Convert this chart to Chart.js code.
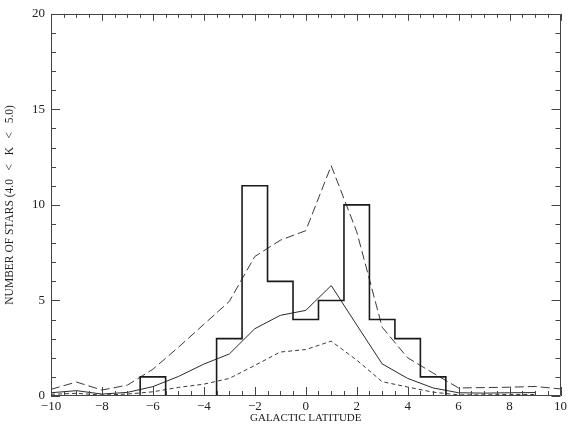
<!DOCTYPE html>
<html>
<head>
<meta charset="utf-8">
<script src="https://cdn.jsdelivr.net/npm/chart.js@4.4.1/dist/chart.umd.min.js"></script>
<style>
  html, body { margin: 0; padding: 0; background: #ffffff; }
  #wrap { width: 570px; height: 427px; }
</style>
</head>
<body>
<div id="wrap"><canvas id="c" width="570" height="427"></canvas></div>
<script>
// ---- data ----
const latitudes = [-10, -9, -8, -7, -6, -5, -4, -3, -2, -1, 0, 1, 2, 3, 4, 5, 6, 7, 8, 9, 10];
const modelLongDash  = [0.35, 0.73, 0.31, 0.57, 1.4, 2.55, 3.75, 4.95, 7.3, 8.15, 8.65, 12.05, 8.6, 3.6, 2.0, 1.2, 0.42, 0.44, 0.46, 0.5, 0.37];
const modelSolid     = [0.17, 0.28, 0.1, 0.19, 0.49, 1.02, 1.67, 2.2, 3.52, 4.22, 4.48, 5.78, 3.72, 1.68, 0.92, 0.42, 0.17, 0.15, 0.17, 0.18, null];
const modelShortDash = [0.09, 0.14, 0.05, 0.1, 0.22, 0.45, 0.62, 0.92, 1.6, 2.3, 2.43, 2.87, 1.88, 0.75, 0.47, 0.2, 0.06, 0.06, 0.08, 0.08, null];
const binCenters = [-7, -6, -5, -4, -3, -2, -1, 0, 1, 2, 3, 4, 5, 6];
const starCounts = [0, 1, 0, 0, 3, 11, 6, 4, 5, 10, 4, 3, 1, 0];
const xTickValues = [-10, -8, -6, -4, -2, 0, 2, 4, 6, 8, 10];
const yTickValues = [0, 5, 10, 15, 20];

const toPoints = (xs, ys) => xs.map((x, i) => ({ x: x, y: ys[i] }));
const histPoints = binCenters.map((c, i) => ({ x: c - 0.5, y: starCounts[i] }));

const serif = '"Liberation Serif", "DejaVu Serif", serif';
const axisColor = '#444';

const frameTicks = {
  id: 'frameTicks',
  afterDraw(chart) {
    const { ctx, chartArea: a, scales } = chart;
    const xs = scales.x, ys = scales.y;
    ctx.save();
    ctx.strokeStyle = axisColor;
    ctx.lineWidth = 1;
    ctx.beginPath();
    ctx.rect(Math.round(a.left) + 0.5, Math.round(a.top) + 0.5, Math.round(a.right - a.left) - 1, Math.round(a.bottom - a.top) - 1);
    ctx.stroke();
    ctx.beginPath();
    for (let v = xs.min; v <= xs.max + 1e-9; v += 0.5) {
      const px = Math.round(xs.getPixelForValue(v)) + 0.5;
      const major = Math.abs(v % 2) < 1e-9;
      const lb = major ? 9 : 5;
      const lt = major ? 7 : 4;
      ctx.moveTo(px, a.bottom); ctx.lineTo(px, a.bottom - lb);
      ctx.moveTo(px, a.top); ctx.lineTo(px, a.top + lt);
    }
    for (let v = ys.min; v <= ys.max + 1e-9; v += 1) {
      const py = Math.round(ys.getPixelForValue(v)) + 0.5;
      const major = Math.abs(v % 5) < 1e-9;
      const l = major ? 9 : 5;
      ctx.moveTo(a.left, py); ctx.lineTo(a.left + l, py);
      ctx.moveTo(a.right, py); ctx.lineTo(a.right - l, py);
    }
    ctx.stroke();
    ctx.restore();
  }
};

new Chart(document.getElementById('c'), {
  type: 'line',
  data: {
    datasets: [
      {
        label: 'observed',
        data: histPoints,
        stepped: 'before',
        borderColor: '#1a1a1a',
        borderWidth: 1.6,
        pointRadius: 0,
        fill: false
      },
      {
        label: 'model long dash',
        data: toPoints(latitudes, modelLongDash),
        borderColor: '#3a3a3a',
        borderWidth: 1,
        borderDash: [9, 4],
        pointRadius: 0,
        tension: 0,
        fill: false
      },
      {
        label: 'model solid',
        data: toPoints(latitudes, modelSolid),
        borderColor: '#2a2a2a',
        borderWidth: 1,
        pointRadius: 0,
        tension: 0,
        fill: false
      },
      {
        label: 'model short dash',
        data: toPoints(latitudes, modelShortDash),
        borderColor: '#3a3a3a',
        borderWidth: 1,
        borderDash: [4, 3],
        pointRadius: 0,
        tension: 0,
        fill: false
      }
    ]
  },
  options: {
    responsive: false,
    animation: false,
    devicePixelRatio: 1,
    layout: { padding: { top: 13, right: 9, left: 0, bottom: 0 } },
    plugins: { legend: { display: false }, tooltip: { enabled: false } },
    scales: {
      x: {
        type: 'linear',
        min: -10, max: 10,
        grid: { display: false, drawTicks: false },
        border: { display: false },
        afterBuildTicks: s => { s.ticks = xTickValues.map(v => ({ value: v })); },
        ticks: {
          color: '#222',
          padding: 3,
          maxRotation: 0,
          font: { family: serif, size: 13 },
          callback: v => (v < 0 ? '\u2212' + Math.abs(v) : String(v))
        },
        title: {
          display: true,
          text: 'GALACTIC LATITUDE',
          color: '#222',
          font: { family: serif, size: 11 },
          padding: { top: 0, bottom: 2 }
        },
        afterFit: s => { s.height = 31; }
      },
      y: {
        type: 'linear',
        min: 0, max: 20,
        grid: { display: false, drawTicks: false },
        border: { display: false },
        afterBuildTicks: s => { s.ticks = yTickValues.map(v => ({ value: v })); },
        ticks: {
          color: '#222',
          padding: 6,
          font: { family: serif, size: 13 }
        },
        title: {
          display: true,
          text: 'NUMBER OF STARS (4.0   <   K   <   5.0)',
          color: '#222',
          font: { family: serif, size: 11.5 },
          padding: { top: 3, bottom: 0 }
        },
        afterFit: s => { s.width = 51; }
      }
    }
  },
  plugins: [frameTicks]
});
</script>
</body>
</html>
